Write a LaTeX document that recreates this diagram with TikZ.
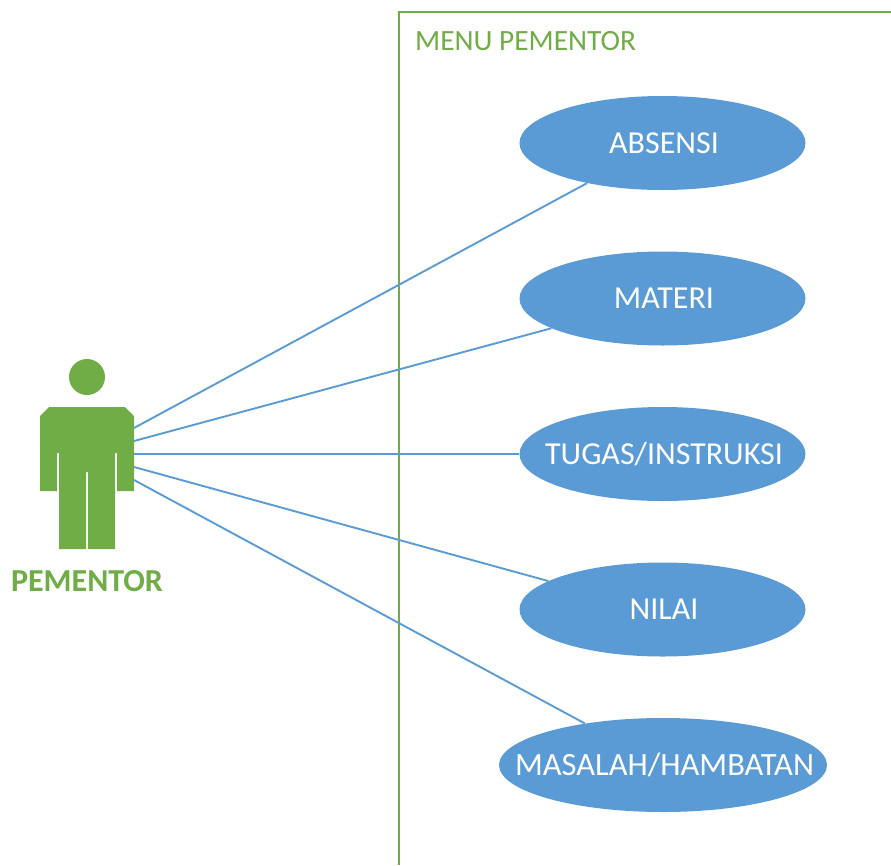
\documentclass[tikz,border=0pt]{standalone}
\usepackage{fontspec}
\setmainfont{Carlito}
\usetikzlibrary{shapes.geometric}
\definecolor{grn}{HTML}{70AD47}
\definecolor{blu}{HTML}{5B9BD5}
\tikzset{
  usecase/.style={ellipse,fill=blu,draw=none,inner sep=0pt,minimum height=94pt,minimum width=286pt,text=white,font=\fontsize{32}{36}\selectfont},
  link/.style={draw=blu,line width=1.9pt},
  frameline/.style={draw=grn,line width=2pt},
}
\newcommand{\inbox}[1]{\makebox[0pt]{\hspace*{3pt}#1}}
\begin{document}
\begin{tikzpicture}[x=1pt,y=-1pt]
\useasboundingbox (0,0) rectangle (891,865);
\draw[frameline] (891,12) -- (399,12) -- (399,865);
\node[anchor=west,text=grn,font=\fontsize{29.4}{32}\selectfont,inner sep=0pt] (menu) at (415,41) {MENU PEMENTOR};
% actor
\fill[grn] (87,377) circle (18);
\fill[grn] (49,407) -- (125,407) -- (134,416) -- (134,491) -- (117,491) -- (117,453) -- (115,453) -- (115,549) -- (88,549) -- (88,472) -- (86,472) -- (86,549) -- (59,549) -- (59,453) -- (57,453) -- (57,491) -- (40,491) -- (40,416) -- cycle;
\node[text=grn,font=\fontsize{32}{36}\selectfont\bfseries,inner sep=0pt] (actor) at (87,581) {PEMENTOR};
\coordinate (a1) at (134,428);
\coordinate (a2) at (134,441);
\coordinate (a3) at (134,454);
\coordinate (a4) at (134,467);
\coordinate (a5) at (134,480);
% use cases
\node[usecase] (absensi) at (662.5,143) {\inbox{ABSENSI}};
\node[usecase] (materi) at (662.5,298.5) {\inbox{MATERI}};
\node[usecase] (tugas) at (662.5,454) {\inbox{TUGAS/INSTRUKSI}};
\node[usecase] (nilai) at (662.5,609.5) {\inbox{NILAI}};
\node[usecase,minimum width=328pt,font=\fontsize{32.5}{36}\selectfont] (masalah) at (663,765) {\inbox{MASALAH/HAMBATAN}};
\draw[link] (a1) -- (absensi.208);
\draw[link] (a2) -- (materi.195.3);
\draw[link] (a3) -- (tugas.west);
\draw[link] (a4) -- (nilai.166);
\draw[link] (a5) -- (masalah.152.5);
\end{tikzpicture}
\end{document}
